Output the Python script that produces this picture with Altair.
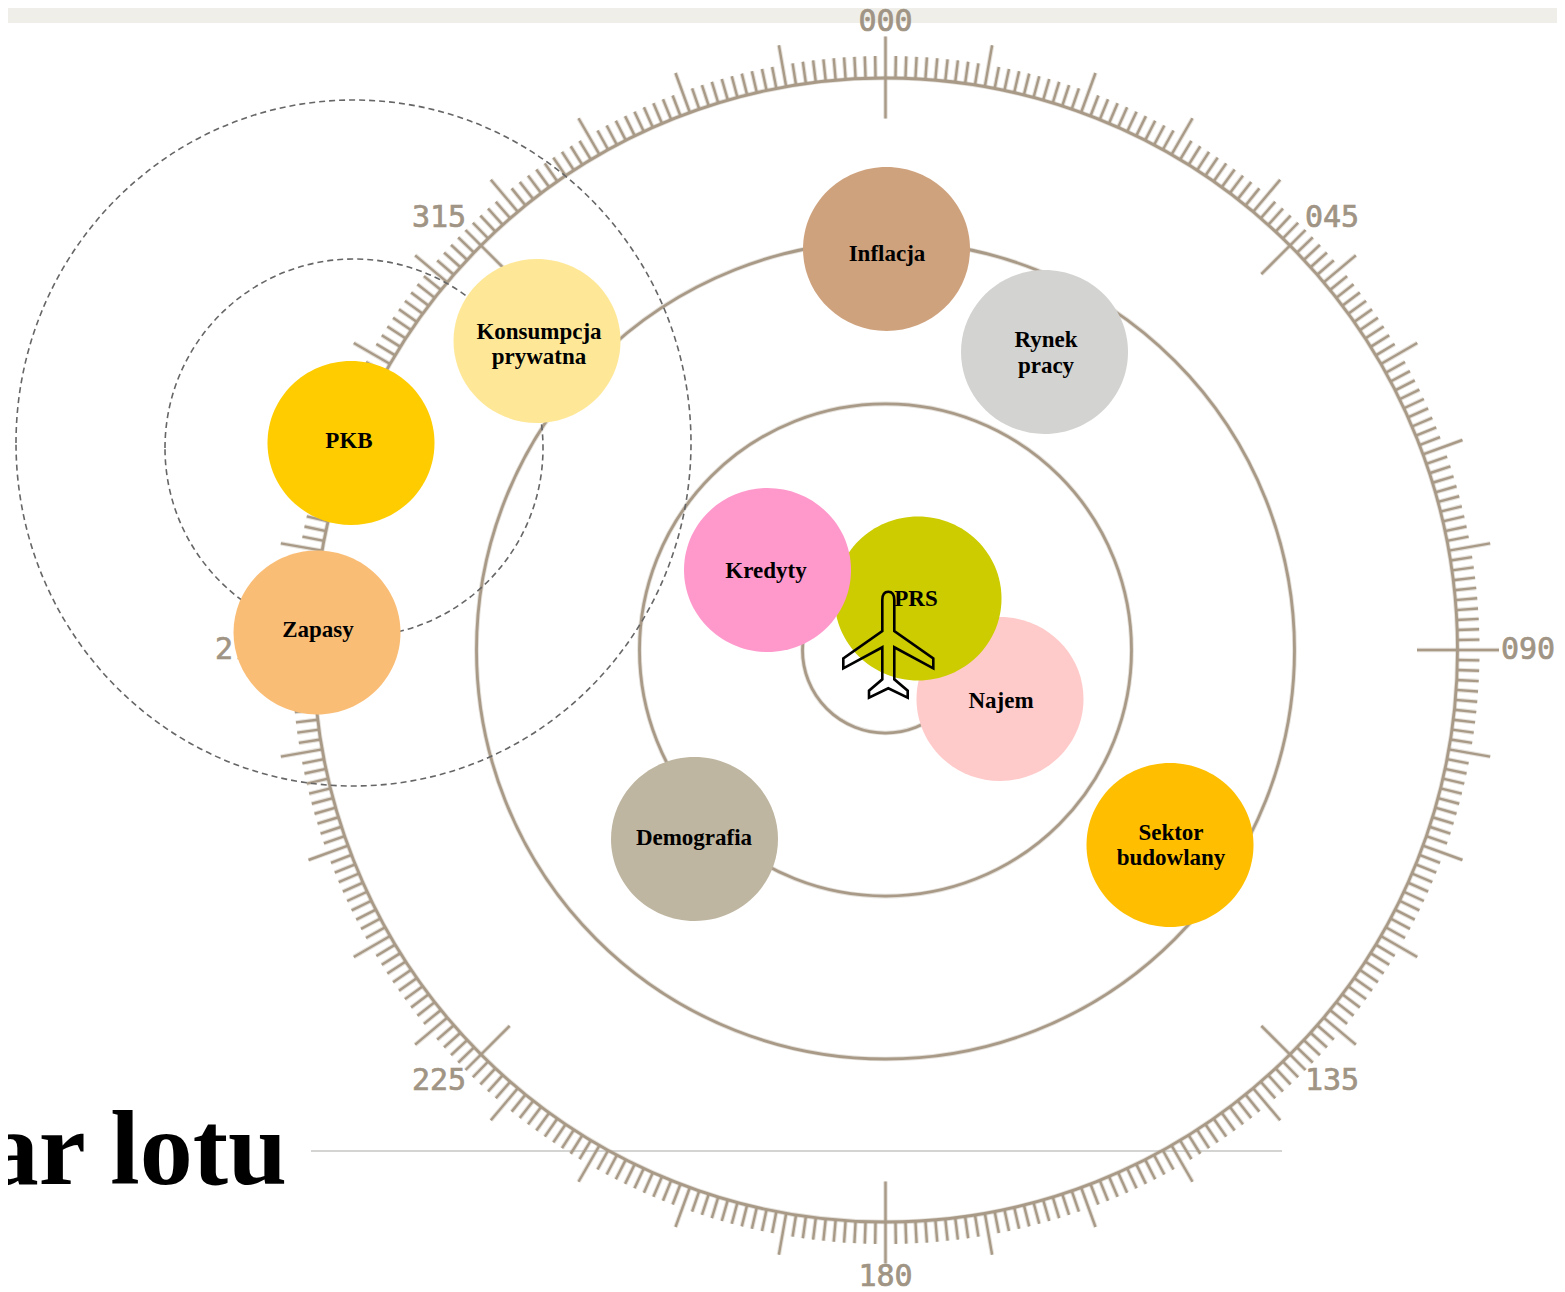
import numpy as np
import pandas as pd
import altair as alt

# ---- data, read in picture pixels ----
CENTER = (885.5, 650)
DIAL_R = 572
RINGS = [409, 246, 83]
DASHED_CX = [353.5, 354]
DASHED_CY = [443, 448]
DASHED_RX = [337.5, 189]
DASHED_RY = [343, 189]

BUBBLE_NAMES = ["Inflacja", "Rynek pracy", "Konsumpcja prywatna", "PKB", "Zapasy",
                "Najem", "PRS", "Kredyty", "Demografia", "Sektor budowlany"]
BUBBLE_X = [886.5, 1044.5, 537, 351, 317, 1000, 918, 767.5, 694.5, 1170]
BUBBLE_Y = [249, 352, 341, 443, 632.5, 699, 598.5, 570, 839, 845]
BUBBLE_COLORS = ["#cfa27e", "#d3d3d1", "#fee898", "#ffcc00", "#fabd76",
                 "#ffcaca", "#cccc00", "#ff99cc", "#bfb6a1", "#ffbf00"]

LABELS = ["Inflacja", "Rynek", "pracy", "Konsumpcja", "prywatna", "PKB", "Zapasy",
          "Najem", "PRS", "Kredyty", "Demografia", "Sektor", "budowlany"]
LABEL_X = [887, 1046, 1046, 539, 539, 349, 318, 1001, 916, 766, 694, 1171, 1171]
LABEL_Y = [254, 340, 366, 332, 357, 441, 630, 701, 599, 571, 838, 833, 858]

DIAL_TEXT = ["000", "045", "090", "135", "180", "225", "270", "315"]
DIAL_TEXT_X = [885.5, 1332, 1528, 1332, 885.5, 439, 242, 439]
DIAL_TEXT_Y = [22, 218, 650, 1081, 1277, 1081, 650, 218]

TITLE = "Radar lotu"
TAN = "#a89a87"

# plane outline, picture pixels
PLANE_X = [882.3, 882.3, 843.3, 843.3, 882.3, 882.3, 869, 869, 888.3, 907.7, 907.7, 894.3, 894.3, 933.3, 933.3, 894.3, 894.3]
PLANE_Y = [600, 631, 658.3, 668.3, 647.3, 679.3, 690.7, 697.7, 688.3, 697.7, 690.7, 679.3, 647.3, 668.3, 658.3, 631, 600]
PLANE_CX, PLANE_CY, PLANE_H = 888.3, 644.7, 53


def u(x, y):
    return f"{(x - PLANE_CX) / PLANE_H:.3f},{(y - PLANE_CY) / PLANE_H:.3f}"


plane_path = "M" + " L".join(u(a, b) for a, b in zip(PLANE_X, PLANE_Y))
plane_path += f" C{u(894.3, 594)} {u(891.5, 591.7)} {u(888.3, 591.7)}"
plane_path += f" C{u(885, 591.7)} {u(882.3, 594)} {u(882.3, 600)} Z"

W, H = 1549, 1284
xs = alt.Scale(domain=[8, 8 + W], nice=False, zero=False)
ys = alt.Scale(domain=[8 + H, 8], nice=False, zero=False)
X = lambda f: alt.X(f, type="quantitative", scale=xs, axis=None)
Y = lambda f: alt.Y(f, type="quantitative", scale=ys, axis=None)

# dial ticks: every degree, longer every ten, cardinal and diagonal bearings reach inward
deg = np.arange(0, 360)
rin = np.where(deg % 45 == 0, 531.5, DIAL_R)
rout = np.where(deg % 90 == 0, 613.5, np.where(deg % 45 == 0, 594, np.where(deg % 10 == 0, 614, 594)))
th = np.radians(deg)
ticks = pd.DataFrame({
    "x": CENTER[0] + rin * np.sin(th), "y": CENTER[1] - rin * np.cos(th),
    "x2": CENTER[0] + rout * np.sin(th), "y2": CENTER[1] - rout * np.cos(th),
})

band = alt.Chart(pd.DataFrame({"x": [0], "x2": [1565], "y": [0], "y2": [23]})).mark_rect(
    color="#efeee9").encode(X("x"), x2="x2", y=Y("y"), y2="y2")

sep = alt.Chart(pd.DataFrame({"x": [311], "x2": [1282], "y": [1151]})).mark_rule(
    color="#d4d4d2", strokeWidth=2).encode(X("x"), x2="x2", y=Y("y"))

title = alt.Chart(pd.DataFrame({"x": [287], "y": [1184], "t": [TITLE]})).mark_text(
    font="Liberation Serif", fontWeight="bold", fontSize=106, align="right",
    baseline="alphabetic", color="#000000").encode(X("x"), Y("y"), text="t:N")

tick_halo = alt.Chart(ticks).mark_rule(color=TAN, strokeWidth=4.5, opacity=0.3).encode(
    X("x"), Y("y"), x2="x2", y2="y2")
tick_core = alt.Chart(ticks).mark_rule(color=TAN, strokeWidth=2.4).encode(
    X("x"), Y("y"), x2="x2", y2="y2")

ring_df = pd.DataFrame({"x": CENTER[0], "y": CENTER[1],
                        "s": [(2.0 * r) ** 2 for r in [DIAL_R] + RINGS]})
ring_halo = alt.Chart(ring_df).mark_point(shape="circle", filled=False, stroke=TAN,
                                          strokeWidth=4.6, opacity=0.3).encode(
    X("x"), Y("y"), size=alt.Size("s:Q", scale=None, legend=None))
ring_core = alt.Chart(ring_df).mark_point(shape="circle", filled=False, stroke=TAN,
                                          strokeWidth=2.8, opacity=1).encode(
    X("x"), Y("y"), size=alt.Size("s:Q", scale=None, legend=None))

dial_text = alt.Chart(pd.DataFrame({"x": DIAL_TEXT_X, "y": DIAL_TEXT_Y, "t": DIAL_TEXT})).mark_text(
    font="DejaVu Sans Mono", fontSize=30, align="center", baseline="middle", color="#a09484",
    stroke="#a09484", strokeWidth=0.7).encode(X("x"), Y("y"), text="t:N")


def dashed_ring(cx, cy, rx, ry):
    k = ry / rx
    path = f"M-1,0 A1,{k:.4f} 0 1,1 1,0 A1,{k:.4f} 0 1,1 -1,0 Z"
    return alt.Chart(pd.DataFrame({"x": [cx], "y": [cy], "s": [(2.0 * rx) ** 2]})).mark_point(
        shape=path, filled=False, stroke="#666666", strokeWidth=1.6, strokeDash=[6, 4], opacity=1
    ).encode(X("x"), Y("y"), size=alt.Size("s:Q", scale=None, legend=None))


dashed = [dashed_ring(*v) for v in zip(DASHED_CX, DASHED_CY, DASHED_RX, DASHED_RY)]

bub_df = pd.DataFrame({"name": BUBBLE_NAMES, "x": BUBBLE_X, "y": BUBBLE_Y, "c": BUBBLE_COLORS,
                       "o": range(len(BUBBLE_NAMES)), "s": 167.0 ** 2})
ELLIPSE = "M-1,0 A1,0.982 0 1,1 1,0 A1,0.982 0 1,1 -1,0 Z"
bubbles = alt.Chart(bub_df).mark_point(shape=ELLIPSE, filled=True, opacity=1, strokeWidth=0).encode(
    X("x"), Y("y"), size=alt.Size("s:Q", scale=None, legend=None),
    color=alt.Color("c:N", scale=None, legend=None), order="o:Q")

plane = alt.Chart(pd.DataFrame({"x": [PLANE_CX], "y": [PLANE_CY], "s": [(2.0 * PLANE_H) ** 2]})).mark_point(
    shape=plane_path, filled=False, stroke="#000000", strokeWidth=2.6, opacity=1,
    strokeJoin="miter").encode(X("x"), Y("y"), size=alt.Size("s:Q", scale=None, legend=None))

labels = alt.Chart(pd.DataFrame({"x": LABEL_X, "y": LABEL_Y, "t": LABELS})).mark_text(
    font="Liberation Serif", fontWeight="bold", fontSize=23, align="center", baseline="middle",
    color="#000000").encode(X("x"), Y("y"), text="t:N")

chart = alt.layer(band, sep, title, tick_halo, tick_core, ring_halo, ring_core,
                  dial_text, *dashed, bubbles, plane, labels).properties(
    width=W, height=H, padding=0, autosize=alt.AutoSizeParams(type="none"), background="#ffffff"
).configure_view(stroke=None)

chart.save("out.html", embed_options={"renderer": "svg", "actions": False})
